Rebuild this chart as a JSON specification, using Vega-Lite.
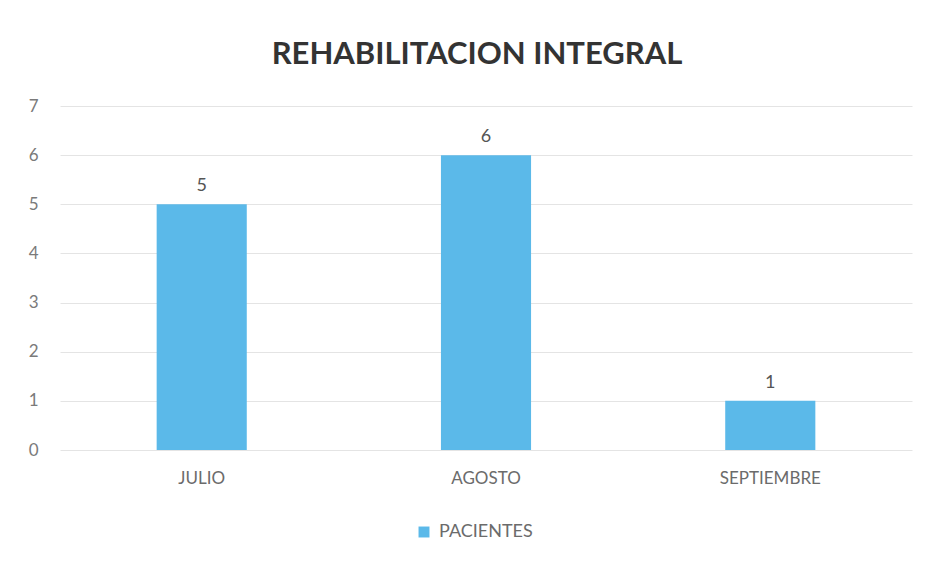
{
  "$schema": "https://vega.github.io/schema/vega-lite/v6.json",
  "autosize": {"type": "none"},
  "width": 852,
  "height": 344,
  "padding": {"left": 60, "top": 106, "right": 20, "bottom": 111},
  "background": "white",
  "title": {
    "text": "REHABILITACION INTEGRAL",
    "font": "Lato",
    "fontSize": 31,
    "fontWeight": "bold",
    "color": "#333333",
    "anchor": "middle",
    "dx": -9,
    "offset": 26
  },
  "data": {
    "values": [
      {"mes": "JULIO", "pacientes": 5, "serie": "PACIENTES"},
      {"mes": "AGOSTO", "pacientes": 6, "serie": "PACIENTES"},
      {"mes": "SEPTIEMBRE", "pacientes": 1, "serie": "PACIENTES"}
    ]
  },
  "config": {
    "view": {"stroke": null},
    "font": "Lato"
  },
  "encoding": {
    "x": {
      "field": "mes",
      "type": "nominal",
      "sort": null,
      "title": null,
      "scale": {"paddingInner": 0.683, "paddingOuter": 0.34},
      "axis": {
        "labelAngle": 0,
        "labelFont": "Lato",
        "labelFontSize": 17,
        "labelColor": "#6b6b6b",
        "labelPadding": 20,
        "domain": false,
        "ticks": false
      }
    },
    "y": {
      "field": "pacientes",
      "type": "quantitative",
      "title": null,
      "scale": {"domain": [0, 7], "nice": false},
      "axis": {
        "values": [0, 1, 2, 3, 4, 5, 6, 7],
        "labelOverlap": false,
        "labelFont": "Lato",
        "labelFontSize": 17,
        "labelColor": "#7a7a7a",
        "labelPadding": 22,
        "domain": false,
        "ticks": false,
        "gridColor": "#e4e4e4",
        "gridWidth": 1
      }
    }
  },
  "layer": [
    {
      "mark": {"type": "bar"},
      "encoding": {
        "color": {
          "field": "serie",
          "type": "nominal",
          "scale": {"range": ["#5bb9e9"]},
          "legend": {
            "title": null,
            "orient": "none",
            "legendX": 355,
            "legendY": 417,
            "symbolType": "square",
            "symbolSize": 120,
            "labelFont": "Lato",
            "labelFontSize": 18,
            "labelColor": "#6b6b6b",
            "labelOffset": 6
          }
        }
      }
    },
    {
      "mark": {"type": "text", "dy": -18, "fontSize": 18, "font": "Lato", "color": "#555555"},
      "encoding": {"text": {"field": "pacientes", "type": "quantitative"}}
    }
  ]
}
